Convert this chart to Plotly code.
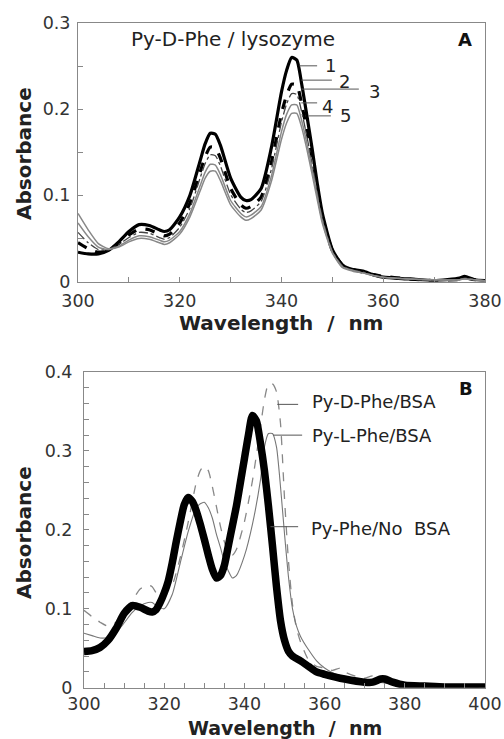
import plotly.graph_objects as go

# ---------------- Panel A data (Py-D-Phe / lysozyme) ----------------
wl_a = [300, 302, 304, 306, 308, 310, 312, 314, 316, 317, 318, 320, 322, 324, 325,
        326, 327, 328, 330, 332, 333, 334, 336, 338, 340, 341, 342, 343, 344, 345,
        346, 347, 348, 350, 352, 354, 356, 358, 360, 365, 370, 375, 376, 378, 380]
a1 = [.034, .032, .032, .036, .046, .058, .066, .065, .060, .058, .060, .075, .100, .140, .160,
      .172, .171, .158, .120, .098, .094, .095, .108, .155, .220, .245, .260, .257, .228, .192,
      .155, .115, .080, .037, .019, .014, .012, .008, .005, .003, .001, .004, .006, .002, .001]
a2 = [.045, .038, .034, .036, .044, .054, .061, .060, .055, .053, .055, .068, .091, .127, .145,
      .156, .155, .143, .108, .089, .085, .087, .098, .138, .195, .216, .229, .228, .205, .175,
      .142, .107, .076, .036, .019, .014, .011, .008, .006, .003, .001, .002, .004, .002, .001]
a3 = [.057, .045, .037, .037, .043, .051, .057, .056, .051, .049, .051, .063, .085, .120, .137,
      .147, .146, .134, .101, .084, .080, .082, .093, .130, .185, .206, .218, .217, .196, .168,
      .137, .104, .074, .035, .018, .013, .011, .007, .005, .003, .001, .002, .004, .002, .001]
a4 = [.068, .052, .040, .037, .041, .048, .053, .052, .048, .046, .048, .058, .079, .111, .127,
      .136, .135, .124, .094, .079, .075, .077, .087, .122, .174, .194, .205, .205, .186, .160,
      .131, .100, .071, .034, .017, .013, .010, .007, .005, .003, .002, .002, .003, .002, .001]
a5 = [.079, .060, .044, .038, .040, .046, .050, .049, .045, .043, .045, .055, .075, .105, .120,
      .128, .128, .117, .089, .075, .071, .073, .083, .116, .165, .184, .195, .195, .178, .153,
      .125, .096, .068, .033, .016, .012, .010, .007, .005, .003, .002, .002, .003, .002, .001]
labels_a = ["1", "2", "3", "4", "5"]

# ---------------- Panel B data ----------------
wl_nobsa = [300, 302, 304, 306, 308, 310, 312, 314, 316, 317, 318, 319, 320, 321, 322,
            323, 324, 325, 326, 327, 328, 329, 330, 331, 332, 333, 334, 335, 336, 337,
            338, 339, 340, 341, 342, 343, 344, 345, 346, 347, 348, 349, 350, 351, 352,
            354, 356, 358, 360, 365, 370, 372, 374, 375, 377, 380, 385, 390, 400]
b_nobsa = [.046, .047, .051, .060, .075, .094, .104, .102, .097, .096, .099, .108, .120, .135, .158,
           .185, .210, .232, .241, .236, .224, .207, .188, .168, .150, .139, .142, .155, .180, .205,
           .230, .260, .290, .320, .345, .338, .310, .275, .230, .180, .128, .085, .060, .046, .040,
           .034, .027, .020, .017, .011, .007, .007, .011, .011, .007, .003, .002, .001, .001]

wl_d = [300, 302, 304, 306, 308, 310, 312, 314, 316, 317, 318, 319, 320, 322, 324,
        326, 328, 329, 330, 331, 332, 333, 334, 335, 336, 337, 338, 340, 341, 342,
        343, 344, 345, 346, 347, 348, 349, 350, 351, 352, 353, 354, 356, 358, 360,
        362, 364, 365, 368, 370, 372, 375, 380, 390, 400]
b_d = [.098, .090, .083, .078, .083, .095, .110, .125, .130, .128, .120, .115, .118, .130, .165,
       .210, .260, .275, .281, .275, .255, .230, .205, .185, .172, .168, .175, .210, .235, .262,
       .295, .330, .365, .385, .385, .375, .335, .240, .160, .105, .075, .058, .035, .027, .025,
       .022, .025, .020, .014, .012, .015, .008, .004, .002, .001]

wl_l = [300, 302, 304, 306, 308, 310, 312, 314, 316, 317, 318, 320, 322, 324, 326,
        328, 329, 330, 331, 332, 333, 334, 335, 336, 337, 338, 340, 342, 344, 345,
        346, 347, 348, 349, 350, 351, 352, 353, 354, 356, 358, 360, 362, 365, 370,
        375, 380, 390, 400]
b_l = [.069, .066, .063, .064, .070, .082, .095, .104, .108, .108, .104, .100, .118, .158, .198,
       .228, .233, .235, .228, .215, .195, .178, .160, .148, .139, .142, .167, .207, .263, .305,
       .322, .322, .305, .255, .195, .140, .100, .078, .065, .048, .034, .025, .019, .014, .009,
       .006, .003, .001, .001]
labels_b = ["Py-D-Phe/BSA", "Py-L-Phe/BSA", "Py-Phe/No\u00a0 BSA"]

FONT = "DejaVu Sans"
W, H = 504, 739

fig = go.Figure()

# Panel A traces
styles_a = [
    dict(color="black", width=3.2, dash="solid"),
    dict(color="black", width=3.2, dash="dash"),
    dict(color="#444", width=1.3, dash="dashdot"),
    dict(color="#888", width=1.5, dash="solid"),
    dict(color="#888", width=1.5, dash="solid"),
]
for ys, st, nm in zip([a1, a2, a3, a4, a5], styles_a, labels_a):
    fig.add_trace(go.Scatter(x=wl_a, y=ys, mode="lines", name=nm,
                             line=dict(shape="spline", smoothing=0.6, **st),
                             xaxis="x", yaxis="y", showlegend=False))

# Panel B traces
fig.add_trace(go.Scatter(x=wl_d, y=b_d, mode="lines", name=labels_b[0],
                         line=dict(color="#888", width=1.3, dash="dash", shape="spline", smoothing=0.6),
                         xaxis="x2", yaxis="y2", showlegend=False))
fig.add_trace(go.Scatter(x=wl_l, y=b_l, mode="lines", name=labels_b[1],
                         line=dict(color="#777", width=1.1, shape="spline", smoothing=0.6),
                         xaxis="x2", yaxis="y2", showlegend=False))
fig.add_trace(go.Scatter(x=wl_nobsa, y=b_nobsa, mode="lines", name=labels_b[2],
                         line=dict(color="black", width=7.5, shape="spline", smoothing=0.6),
                         xaxis="x2", yaxis="y2", showlegend=False))

axis_common = dict(showline=True, mirror=True, linecolor="#888", linewidth=1,
                   ticks="inside", ticklen=5, tickcolor="#888", showgrid=False, zeroline=False,
                   automargin=False,
                   tickfont=dict(family=FONT, size=17.5, color="#333"))

fig.update_layout(
    width=W, height=H, margin=dict(l=0, r=0, t=0, b=0),
    paper_bgcolor="white", plot_bgcolor="white", hovermode=False,
    xaxis=dict(domain=[78 / W, 485 / W], range=[300, 380], anchor="y",
               tick0=300, dtick=20, ticklabelstandoff=3,
               minor=dict(ticks="inside", dtick=10, ticklen=5, tickcolor="#888"),
               **axis_common),
    yaxis=dict(domain=[1 - 281.5 / H, 1 - 23 / H], range=[0, 0.3], anchor="x",
               tick0=0, dtick=0.1, ticklabelstandoff=3,
               minor=dict(ticks="inside", dtick=0.05, ticklen=5, tickcolor="#888"),
               **axis_common),
    xaxis2=dict(domain=[84 / W, 485 / W], range=[300, 400], anchor="y2",
                tick0=300, dtick=20, ticklabelstandoff=0,
                minor=dict(ticks="inside", dtick=5, ticklen=5, tickcolor="#888"),
                **axis_common),
    yaxis2=dict(domain=[1 - 687.7 / H, 1 - 372 / H], range=[0, 0.4], anchor="x2",
                tick0=0, dtick=0.1, ticklabelstandoff=7,
                minor=dict(ticks="inside", dtick=0.02, ticklen=5, tickcolor="#888"),
                **axis_common),
)

title_font = dict(family=FONT, size=20, color="#222", weight="bold")
ann = []
# axis titles
ann.append(dict(text="Wavelength\u00a0 /\u00a0 nm", xref="paper", yref="paper", x=281 / W, y=1 - 323 / H,
                xanchor="center", yanchor="middle", showarrow=False, font=title_font))
ann.append(dict(text="Absorbance", xref="paper", yref="paper", x=24 / W, y=1 - 154 / H, textangle=-90,
                xanchor="center", yanchor="middle", showarrow=False, font=title_font))
ann.append(dict(text="Wavelength\u00a0 /\u00a0 nm", xref="paper", yref="paper", x=284.5 / W, y=1 - 727.5 / H,
                xanchor="center", yanchor="middle", showarrow=False,
                font=dict(family=FONT, size=19, color="#222", weight="bold")))
ann.append(dict(text="Absorbance", xref="paper", yref="paper", x=24 / W, y=1 - 533 / H, textangle=-90,
                xanchor="center", yanchor="middle", showarrow=False, font=title_font))
# panel titles
ann.append(dict(text="Py-D-Phe / lysozyme", xref="paper", yref="paper", x=233 / W, y=1 - 39 / H,
                xanchor="center", yanchor="middle", showarrow=False,
                font=dict(family=FONT, size=20, color="#222")))
ann.append(dict(text="A", xref="paper", yref="paper", x=465 / W, y=1 - 40 / H,
                xanchor="center", yanchor="middle", showarrow=False,
                font=dict(family=FONT, size=18, color="#111", weight="bold")))
ann.append(dict(text="B", xref="paper", yref="paper", x=466 / W, y=1 - 388.5 / H,
                xanchor="center", yanchor="middle", showarrow=False,
                font=dict(family=FONT, size=18, color="#111", weight="bold")))

# Panel A leader lines and numbers
lead_a = [(343.5, 347.0, 0.2503, 349.7, 0.251),
          (343.9, 349.9, 0.2337, 352.3, 0.2326),
          (343.9, 355.2, 0.2233, 358.3, 0.221),
          (343.9, 347.0, 0.2073, 349.1, 0.2035),
          (345.3, 349.7, 0.1922, 352.6, 0.193)]
shapes = []
for lab, (x0, x1, yl, xt, yt) in zip(labels_a, lead_a):
    shapes.append(dict(type="line", xref="x", yref="y", x0=x0, x1=x1, y0=yl, y1=yl,
                       line=dict(color="#555", width=1)))
    ann.append(dict(text=lab, xref="x", yref="y", x=xt, y=yt, xanchor="center", yanchor="middle",
                    showarrow=False, font=dict(family=FONT, size=18, color="#222")))

# Panel B leader lines and labels
lead_b = [(348.2, 353.4, 0.359, 356.4, 0.362),
          (347.2, 354.4, 0.320, 356.4, 0.320),
          (346.5, 353.4, 0.204, 356.2, 0.202)]
for lab, (x0, x1, yl, xt, yt) in zip(labels_b, lead_b):
    shapes.append(dict(type="line", xref="x2", yref="y2", x0=x0, x1=x1, y0=yl, y1=yl,
                       line=dict(color="#555", width=1)))
    ann.append(dict(text=lab, xref="x2", yref="y2", x=xt, y=yt, xanchor="left", yanchor="middle",
                    showarrow=False, font=dict(family=FONT, size=18, color="#222")))

fig.update_layout(annotations=ann, shapes=shapes)
fig.write_html("out.html")
